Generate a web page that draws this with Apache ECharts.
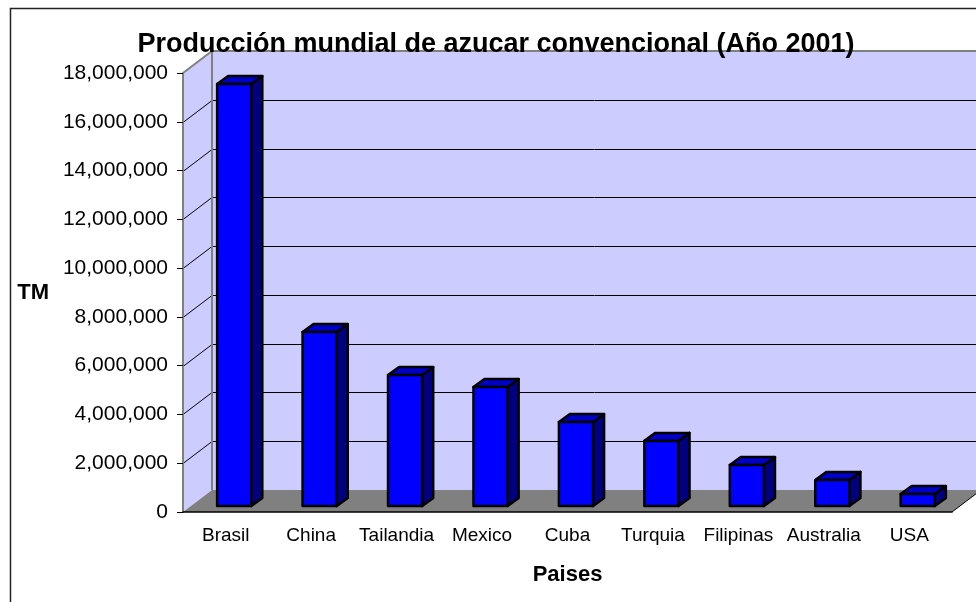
<!DOCTYPE html>
<html>
<head>
<meta charset="utf-8">
<script src="https://cdn.jsdelivr.net/npm/echarts@6/dist/echarts.min.js"></script>
<style>
  html, body { margin: 0; padding: 0; background: #fff; }
  #chart { width: 976px; height: 602px; }
</style>
</head>
<body>
<div id="chart"></div>
<script>
// data
var categories = ["Brasil", "China", "Tailandia", "Mexico", "Cuba", "Turquia", "Filipinas", "Australia", "USA"];
var production = [17300000, 7130000, 5370000, 4880000, 3440000, 2670000, 1680000, 1070000, 490000];
var yTicks = [0, 2000000, 4000000, 6000000, 8000000, 10000000, 12000000, 14000000, 16000000, 18000000];

var FONT = "'Liberation Sans', Arial, sans-serif";
// fake 3d depth of the walls and of the bars
var WALL_DX = 29, WALL_DY = 22;
var BAR_DX = 11, BAR_DY = 8;
var BAR_SHIFT_X = 8.5, BAR_SHIFT_Y = 6;

function fmt(v) {
  return String(v).replace(/\B(?=(\d{3})+(?!\d))/g, ",");
}

function renderWalls(params, api) {
  var yMax = yTicks[yTicks.length - 1];
  var bw = api.size([1, 0])[0];
  var left = api.coord([0, 0])[0] - bw / 2;
  var right = api.coord([categories.length - 1, 0])[0] + bw / 2;
  var yTop = api.coord([0, yMax])[1];
  var yBot = api.coord([0, 0])[1];
  var bx = left + WALL_DX;
  var children = [];
  // back wall
  children.push({ type: "rect", shape: { x: bx, y: yTop - WALL_DY, width: right - left + 10, height: yBot - yTop },
    style: { fill: "#CCCCFF" } });
  // side wall
  children.push({ type: "polygon", shape: { points: [[left, yTop], [bx, yTop - WALL_DY], [bx, yBot - WALL_DY], [left, yBot]] },
    style: { fill: "#CCCCFF" } });
  // floor
  children.push({ type: "polygon", shape: { points: [[left, yBot], [bx, yBot - WALL_DY], [right + WALL_DX, yBot - WALL_DY], [right, yBot]] },
    style: { fill: "#808080" } });
  children.push({ type: "line", shape: { x1: right, y1: yBot, x2: right + WALL_DX, y2: yBot - WALL_DY },
    style: { stroke: "#000", lineWidth: 1 } });
  // gridlines
  yTicks.forEach(function(t) {
    if (t <= 0 || t >= yMax) return;
    var y = Math.round(api.coord([0, t])[1]) + 0.5;
    children.push({ type: "line", shape: { x1: left, y1: y, x2: bx, y2: y - WALL_DY },
      style: { stroke: "#000", lineWidth: 1 } });
    children.push({ type: "line", shape: { x1: bx, y1: y - WALL_DY, x2: right + WALL_DX + 10, y2: y - WALL_DY },
      style: { stroke: "#000", lineWidth: 1 } });
  });
  // grey edges
  children.push({ type: "polyline", shape: { points: [[left, yTop], [bx, yTop - WALL_DY], [right + WALL_DX + 10, yTop - WALL_DY]] },
    style: { stroke: "#808080", lineWidth: 2, fill: null } });
  children.push({ type: "line", shape: { x1: bx, y1: yTop - WALL_DY, x2: bx, y2: yBot - WALL_DY },
    style: { stroke: "#808080", lineWidth: 2 } });
  return { type: "group", children: children };
}

function renderBar(params, api) {
  var i = api.value(0);
  var v = api.value(1);
  var base = api.coord([i, 0]);
  var top = api.coord([i, v]);
  var w = api.size([1, 0])[0] * 0.4;
  var x0 = base[0] - w / 2 + BAR_SHIFT_X;
  var x1 = x0 + w;
  var yB = base[1] - BAR_SHIFT_Y;
  var yT = top[1] - BAR_SHIFT_Y;
  var edge = { stroke: "#000", lineWidth: 2.5, lineJoin: "round" };
  return {
    type: "group",
    children: [
      { type: "polygon", shape: { points: [[x1, yT], [x1 + BAR_DX, yT - BAR_DY], [x1 + BAR_DX, yB - BAR_DY], [x1, yB]] },
        style: Object.assign({ fill: "#000080" }, edge) },
      { type: "polygon", shape: { points: [[x0, yT], [x1, yT], [x1 + BAR_DX, yT - BAR_DY], [x0 + BAR_DX, yT - BAR_DY]] },
        style: Object.assign({ fill: "#0000C8" }, edge) },
      { type: "rect", shape: { x: x0, y: yT, width: w, height: yB - yT },
        style: Object.assign({ fill: "#0000FF" }, edge) }
    ]
  };
}

var myChart = echarts.init(document.getElementById("chart"));
var option = {
  backgroundColor: "#fff",
  animation: false,
  title: {
    text: "Producción mundial de azucar convencional (Año 2001)",
    left: 496,
    top: 31,
    padding: 0,
    textAlign: "center",
    textStyle: { fontFamily: FONT, fontSize: 27, fontWeight: "bold", color: "#000" }
  },
  graphic: [
    { type: "rect", left: 8, top: 6, z: -10,
      shape: { width: 1200, height: 1200 },
      style: { fill: null, stroke: "#222", lineWidth: 1.5 } }
  ],
  grid: { left: 183, right: 24, top: 73, bottom: 90 },
  xAxis: {
    type: "category",
    data: categories,
    z: 10,
    name: "Paises",
    nameLocation: "middle",
    nameGap: 52,
    nameTextStyle: { fontFamily: FONT, fontSize: 22, fontWeight: "bold", color: "#000" },
    axisLine: { lineStyle: { color: "#000", width: 1.5 } },
    axisTick: { length: 7, lineStyle: { color: "#000", width: 1 } },
    axisLabel: { fontFamily: FONT, fontSize: 19, color: "#000", margin: 14, interval: 0 },
    splitLine: { show: false }
  },
  yAxis: {
    type: "value",
    min: 0,
    max: 18000000,
    interval: 2000000,
    z: 10,
    name: "TM",
    nameLocation: "middle",
    nameRotate: 0,
    nameGap: 134,
    nameTextStyle: { fontFamily: FONT, fontSize: 22, fontWeight: "bold", color: "#000" },
    axisLine: { show: true, lineStyle: { color: "#808080", width: 2 } },
    axisTick: { show: true, length: 6, lineStyle: { color: "#000", width: 1 } },
    axisLabel: { fontFamily: FONT, fontSize: 21, color: "#000", margin: 15, formatter: fmt },
    splitLine: { show: false }
  },
  series: [
    {
      type: "custom",
      name: "walls",
      z: 1,
      clip: false,
      silent: true,
      renderItem: renderWalls,
      data: [[0, 0]]
    },
    {
      type: "custom",
      name: "TM",
      z: 3,
      clip: false,
      renderItem: renderBar,
      data: categories.map(function(c, i) { return [i, production[i]]; })
    }
  ]
};
myChart.setOption(option);
</script>
</body>
</html>
